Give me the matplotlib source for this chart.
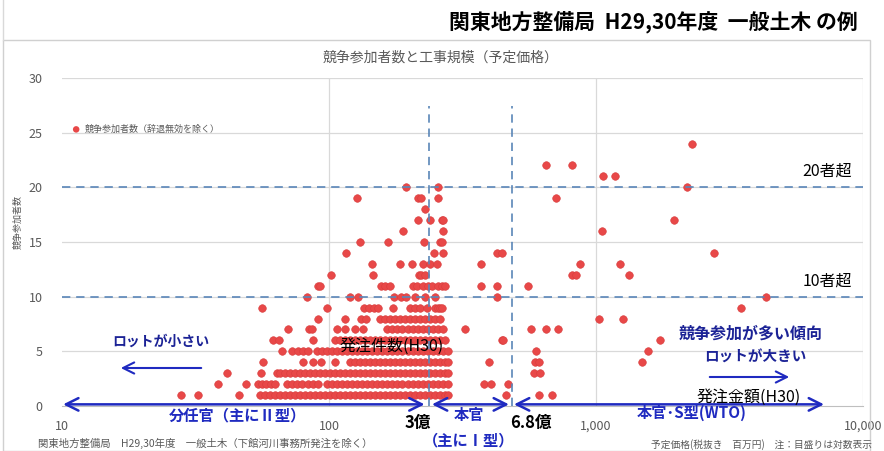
import matplotlib
import matplotlib.pyplot as plt
from matplotlib.patches import Rectangle
from matplotlib.lines import Line2D

matplotlib.use('Agg')

plt.rcParams['font.family'] = ['Noto Sans CJK JP', 'DejaVu Sans']

# 予定価格（税抜き・百万円）を競争参加者数ごとに並べたもの
kakaku_01 = [27.9, 32.3, 46.0, 55.1, 57.6, 60.1, 62.8, 65.5, 68.4, 71.4, 74.6, 77.9, 81.3, 84.9,
             88.6, 92.5, 96.6, 100.9, 105.3, 110.0, 114.8, 119.9, 125.2, 130.7, 136.4, 142.5,
             148.7, 155.3, 162.1, 169.3, 176.7, 184.5, 192.6, 201.1, 210.0, 219.2, 228.9, 239.0,
             249.5, 260.5, 272.0, 279.0, 460, 611, 684]
kakaku_02 = [38.4, 48.9, 54.2, 56.1, 58.1, 60.7, 62.8, 69.6, 72.7, 75.9, 79.2, 83.5, 87.1, 90.9,
             98.3, 102.7, 107.2, 112.0, 116.9, 122.1, 127.5, 133.2, 139.1, 145.3, 151.7, 158.4,
             165.4, 172.8, 180.4, 188.4, 196.8, 205.5, 214.6, 224.1, 234.0, 244.4, 255.2, 266.5,
             278.3, 380, 405, 470]
kakaku_03 = [41.5, 55.6, 64.0, 65.5, 68.4, 71.4, 74.6, 77.9, 81.3, 84.9, 88.6, 92.5, 96.6, 100.9,
             105.3, 110.0, 114.8, 119.9, 125.2, 130.7, 136.4, 142.5, 148.7, 155.3, 162.1, 169.3,
             176.7, 184.5, 192.6, 201.1, 210.0, 219.2, 228.9, 239.0, 249.5, 260.5, 272.0, 278.3,
             585, 617]
kakaku_04 = [56.6, 80.0, 87.0, 93.3, 105.3, 119.9, 125.2, 130.7, 136.4, 142.5, 148.7, 155.3,
             162.1, 169.3, 176.7, 184.5, 192.6, 201.1, 210.0, 219.2, 228.9, 239.0, 249.5, 260.5,
             272.0, 278.3, 397, 590, 610, 1486]
kakaku_05 = [66.6, 72.7, 76.3, 80.0, 83.6, 90.0, 94.1, 98.3, 102.7, 107.2, 112.0, 116.9, 122.1,
             127.5, 133.2, 139.1, 145.3, 151.7, 158.4, 165.4, 172.8, 180.4, 188.4, 196.8, 205.5,
             214.6, 224.1, 234.0, 244.4, 255.2, 266.5, 278.3, 596, 1567]
kakaku_06 = [61.6, 64.8, 87.0, 105.3, 110.0, 114.8, 119.9, 125.2, 130.7, 136.4, 142.5, 148.7,
             155.3, 162.1, 169.3, 176.7, 184.5, 192.6, 201.1, 210.0, 219.2, 228.9, 239.0, 249.5,
             260.5, 272.0, 446, 450, 1738]
kakaku_07 = [70.0, 83.9, 86.6, 107.0, 115.0, 125.0, 134.0, 165.4, 172.8, 180.4, 188.4, 196.8,
             205.5, 214.6, 224.1, 234.0, 244.4, 255.2, 266.5, 323, 571, 650, 721]
kakaku_08 = [91.0, 115.0, 132.0, 138.0, 155.3, 162.1, 169.3, 176.7, 184.5, 192.6, 201.1, 210.0,
             219.2, 228.9, 239.0, 249.5, 260.5, 1026, 1262]
kakaku_09 = [56.0, 98.0, 135.0, 141.0, 147.0, 153.0, 173.0, 201.0, 210.0, 219.0, 232.0, 249.0,
             255.0, 260.0, 266.0, 3490]
kakaku_10 = [83.0, 120.0, 128.0, 175.0, 186.0, 195.0, 210.0, 229.0, 250.0, 427, 4335]
kakaku_11 = [91.0, 92.7, 157.0, 162.0, 169.0, 207.0, 214.0, 224.0, 234.0, 244.0, 255.0, 266.0,
             272.0, 372, 427, 556]
kakaku_12 = [102.0, 146.0, 217.0, 222.0, 228.0, 813, 840, 1330]
kakaku_13 = [145.0, 185.0, 205.0, 224.0, 239.0, 254.0, 370, 871, 1230]
kakaku_14 = [116.0, 247.0, 267.0, 427, 446, 2768]
kakaku_15 = [131.0, 166.0, 226.0, 261.0, 265.0]
kakaku_16 = [189.0, 268.0, 1052]
kakaku_17 = [215.0, 239.0, 265.0, 268.0, 1960]
kakaku_18 = [229.0]
kakaku_19 = [127.0, 215.0, 222.0, 256.0, 708]
kakaku_20 = [194.0, 256.0, 2193]
kakaku_21 = [1063, 1178]
kakaku_22 = [650, 813]
kakaku_24 = [2290]

sanka_sha = [1, 2, 3, 4, 5, 6, 7, 8, 9, 10, 11, 12, 13, 14, 15, 16, 17, 18, 19, 20, 21, 22, 24]
kakaku_list = [kakaku_01, kakaku_02, kakaku_03, kakaku_04, kakaku_05, kakaku_06, kakaku_07,
               kakaku_08, kakaku_09, kakaku_10, kakaku_11, kakaku_12, kakaku_13, kakaku_14,
               kakaku_15, kakaku_16, kakaku_17, kakaku_18, kakaku_19, kakaku_20, kakaku_21,
               kakaku_22, kakaku_24]

# 区切り線（百万円）と目安線（者）
sen_3oku = 237
sen_68oku = 484
sen_sha = [10, 20]

x_ticks = [10, 100, 1000, 10000]
x_labels = ['10', '100', '1,000', '10,000']
y_ticks = [0, 5, 10, 15, 20, 25, 30]

AKA = '#e84848'
HAI = '#595959'
SEN = '#5a86b8'
AO = '#1f2ac0'
KON = '#1c2396'

fig = plt.figure(figsize=(8.84, 4.51), dpi=100)
W, H = 884, 451


def fpos(x, y):
    return x / W, 1 - y / H


# 枠
fig.patches.append(Rectangle((3 / W, 0), 867 / W, 1 - 40 / H, transform=fig.transFigure,
                             fill=False, edgecolor='#d0d0d0', lw=1.0))
fig.lines.append(Line2D([3 / W, 3 / W], [1 - 40 / H, 1], transform=fig.transFigure,
                        color='#d9d9d9', lw=1.0))

fig.text(*fpos(858, 22), '関東地方整備局  H29,30年度  一般土木 の例', ha='right', va='center',
         fontsize=15, fontweight='bold', color='black')

ax = fig.add_axes([62 / W, 1 - 406 / H, 801 / W, 328 / H])
ax.set_xscale('log')
ax.set_xlim(10, 10000)
ax.set_ylim(0, 30)

for s in ['top', 'right', 'left']:
    ax.spines[s].set_visible(False)
ax.spines['bottom'].set_color('#bfbfbf')

for v in y_ticks[1:]:
    ax.axhline(v, color='#d9d9d9', lw=0.9, zorder=0)
for v in [100, 1000, 10000]:
    ax.axvline(v, color='#d9d9d9', lw=0.9, zorder=0)

ax.set_xticks(x_ticks)
ax.set_xticklabels(x_labels)
ax.xaxis.set_minor_locator(matplotlib.ticker.NullLocator())
ax.set_yticks(y_ticks)
ax.tick_params(axis='x', length=0, pad=10, labelsize=9, labelcolor=HAI)
ax.tick_params(axis='y', length=0, pad=14, labelsize=9, labelcolor=HAI)

for n, xs in zip(sanka_sha, kakaku_list):
    ax.scatter(xs, [n] * len(xs), s=30, color=AKA, edgecolors='#d83c3c', linewidths=0.4, zorder=3)

# 凡例
ax.scatter([11.3], [25.3], s=22, color=AKA, edgecolors='none', zorder=3)
ax.text(12.2, 25.3, '競争参加者数（辞退無効を除く）', fontsize=6.5, color=HAI, va='center')

# 破線
for v in sen_sha:
    ax.axhline(v, color=SEN, lw=1.2, ls=(0, (5, 3.5)), zorder=4)
for v in [sen_3oku, sen_68oku]:
    ax.plot([v, v], [0, 27.4], color=SEN, lw=1.2, ls=(0, (5, 3.5)), zorder=4)

fig.text(*fpos(441, 58), '競争参加者数と工事規模（予定価格）', ha='center', va='center',
         fontsize=10, color=HAI)
fig.text(*fpos(18, 222), '競争参加者数', ha='center', va='center', rotation=90,
         fontsize=6.5, color=HAI)

fig.text(*fpos(852, 171), '20者超', ha='right', va='center', fontsize=11.5, color='black')
fig.text(*fpos(852, 281), '10者超', ha='right', va='center', fontsize=11.5, color='black')

# 左側の注記
fig.text(*fpos(161, 342), 'ロットが小さい', ha='center', va='center', fontsize=10,
         fontweight='bold', color=KON)
ax.annotate('', xy=fpos(118, 368), xytext=fpos(204, 368), xycoords='figure fraction',
            textcoords='figure fraction',
            arrowprops=dict(arrowstyle='->, head_length=0.8, head_width=0.4', color=AO, lw=1.5))

# 右側の注記
fig.text(*fpos(751, 334), '競争参加が多い傾向', ha='center', va='center', fontsize=11.5,
         fontweight='bold', color=KON)
fig.text(*fpos(755, 357), 'ロットが大きい', ha='center', va='center', fontsize=10.5,
         fontweight='bold', color=KON)
ax.annotate('', xy=fpos(792, 377), xytext=fpos(707, 377), xycoords='figure fraction',
            textcoords='figure fraction',
            arrowprops=dict(arrowstyle='->, head_length=0.8, head_width=0.4', color=AO, lw=1.5))

ax.text(171, 5.5, '発注件数(H30)', ha='center', va='center', fontsize=11.5, color='black', zorder=5)
fig.text(*fpos(749, 397), '発注金額(H30)', ha='center', va='center', fontsize=11.5, color='black')

# 下の両矢印
yajirushi = [(10.1, 228), (243, 472), (493, 7145)]
for a, b in yajirushi:
    ax.annotate('', xy=(b, 0.15), xytext=(a, 0.15), annotation_clip=False,
                arrowprops=dict(arrowstyle='<->, head_length=0.9, head_width=0.45',
                                color=AO, lw=1.8, shrinkA=0, shrinkB=0), zorder=6)

fig.text(*fpos(238, 415), '分任官（主にⅡ型）', ha='center', va='center', fontsize=11,
         fontweight='bold', color=AO)
fig.text(*fpos(418, 423), '3億', ha='center', va='center', fontsize=12, fontweight='bold',
         color='black')
fig.text(*fpos(469, 415), '本官', ha='center', va='center', fontsize=11, fontweight='bold',
         color=AO)
fig.text(*fpos(469, 440), '（主にⅠ型）', ha='center', va='center', fontsize=11,
         fontweight='bold', color=AO)
fig.text(*fpos(531, 423), '6.8億', ha='center', va='center', fontsize=12, fontweight='bold',
         color='black')
fig.text(*fpos(692, 413), '本官･S型(WTO)', ha='center', va='center', fontsize=11,
         fontweight='bold', color=AO)

fig.text(*fpos(38, 443), '関東地方整備局　H29,30年度　一般土木（下館河川事務所発注を除く）',
         ha='left', va='center', fontsize=7.5, color=HAI)
fig.text(*fpos(872, 445), '予定価格(税抜き　百万円)　注：目盛りは対数表示', ha='right',
         va='center', fontsize=7, color=HAI)

plt.savefig('out.png', dpi=100)
print('out.png saved')
